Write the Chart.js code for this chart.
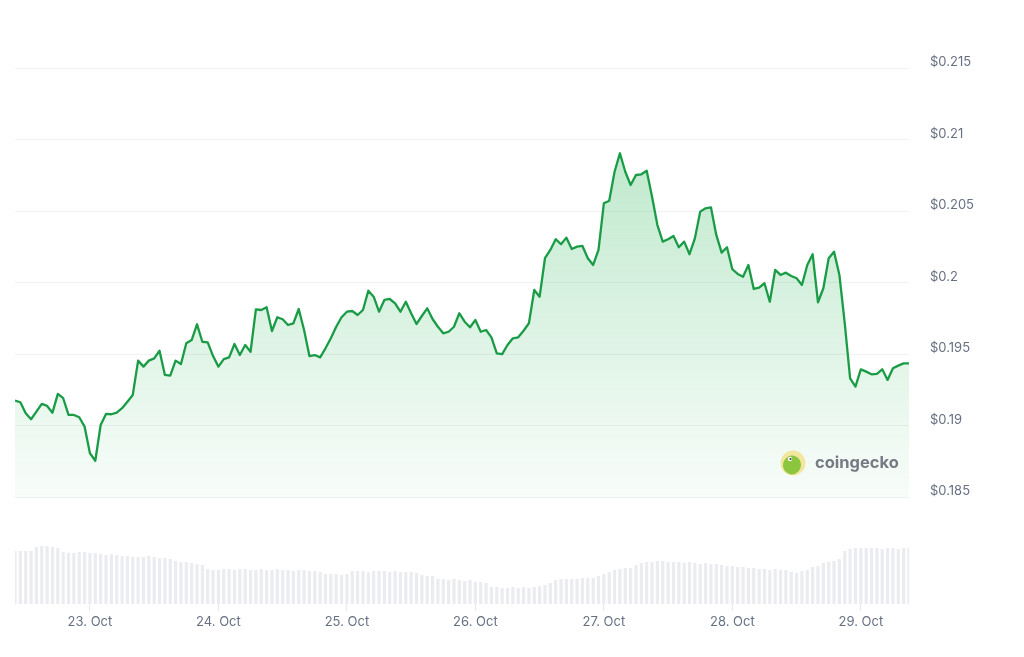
<!DOCTYPE html>
<html>
<head>
<meta charset="utf-8">
<title>Price chart</title>
<script src="https://cdn.jsdelivr.net/npm/chart.js@4.4.1/dist/chart.umd.min.js"></script>
<style>
    html, body { margin: 0; padding: 0; background: #fff; }
    #wrap { width: 1024px; height: 657px; position: relative; }
</style>
</head>
<body>
<div id="wrap"><canvas id="priceChart"></canvas></div>
<script>
// hourly samples, first one is 22 Oct 10:00 (hours counted from 23 Oct 00:00)
const firstHour = -14;

// price in USD, one value per hour
const prices = [
    0.19175, 0.19164, 0.19087, 0.19045, 0.19098, 0.19152, 0.19138, 0.19091, 0.19222, 0.19192, 0.19075, 0.19075, 0.19059, 0.18993,
    0.18807, 0.18755, 0.19005, 0.19082, 0.19080, 0.19091, 0.19122, 0.19168, 0.19215, 0.19455, 0.19413, 0.19455,
    0.19471, 0.19524, 0.19355, 0.19350, 0.19455, 0.19431, 0.19576, 0.19599, 0.19709, 0.19587, 0.19583, 0.19487,
    0.19413, 0.19466, 0.19478, 0.19571, 0.19494, 0.19564, 0.19517, 0.19814, 0.19809, 0.19828, 0.19662, 0.19758,
    0.19744, 0.19704, 0.19716, 0.19816, 0.19669, 0.19487, 0.19494, 0.19478, 0.19541, 0.19611, 0.19692, 0.19758,
    0.19797, 0.19802, 0.19774, 0.19809, 0.19944, 0.19902, 0.19797, 0.19879, 0.19886, 0.19856, 0.19797, 0.19867,
    0.19786, 0.19711, 0.19767, 0.19821, 0.19746, 0.19692, 0.19646, 0.19657, 0.19692, 0.19786, 0.19727, 0.19688,
    0.19739, 0.19657, 0.19669, 0.19618, 0.19506, 0.19501, 0.19564, 0.19611, 0.19618, 0.19664, 0.19716, 0.19949,
    0.19902, 0.20171, 0.20229, 0.20304, 0.20269, 0.20315, 0.20236, 0.20252, 0.20257, 0.20171, 0.20124, 0.20229,
    0.20555, 0.20573, 0.20776, 0.20905, 0.20776, 0.20683, 0.20753, 0.20758, 0.20783, 0.20601, 0.20403, 0.20287,
    0.20304, 0.20327, 0.20248, 0.20287, 0.20199, 0.20310, 0.20497, 0.20520, 0.20527, 0.20334, 0.20210, 0.20248,
    0.20094, 0.20061, 0.20042, 0.20124, 0.19956, 0.19965, 0.19996, 0.19867, 0.20089, 0.20054, 0.20070, 0.20047,
    0.20031, 0.19984, 0.20124, 0.20199, 0.19863, 0.19961, 0.20171, 0.20217, 0.20054, 0.19716, 0.19331, 0.19273,
    0.19394, 0.19378, 0.19359, 0.19362, 0.19394, 0.19320, 0.19401, 0.19420, 0.19436, 0.19436
];

// traded volume per hour (relative units)
const volumes = [
    53, 53, 53, 53, 57, 58, 58, 57, 56, 52, 51, 51, 52, 52,
    51, 51, 50, 49, 50, 49, 48, 48, 47, 47, 47, 48, 47, 46, 46, 45, 43, 42, 42, 41, 40, 39, 35, 34,
    34, 35, 35, 34, 35, 35, 34, 34, 35, 34, 34, 35, 34, 34, 33, 34, 34, 33, 33, 32, 30, 30, 30, 29,
    30, 33, 33, 33, 32, 33, 33, 33, 32, 33, 32, 32, 32, 31, 29, 28, 28, 25, 25, 24, 25, 24, 23, 24,
    22, 22, 21, 17, 17, 16, 16, 17, 16, 17, 16, 17, 18, 19, 21, 24, 25, 25, 25, 25, 26, 26, 26, 28,
    30, 32, 34, 35, 36, 36, 39, 41, 42, 42, 43, 43, 42, 42, 42, 41, 42, 41, 40, 41, 40, 40, 39, 38,
    38, 37, 37, 36, 36, 35, 35, 34, 35, 34, 34, 32, 31, 33, 34, 37, 38, 41, 42, 43, 45, 53, 55, 56,
    56, 56, 56, 56, 55, 56, 56, 55, 56, 56
];

// x axis ticks (hours from 23 Oct 00:00) and their labels
const dayTicks = [0, 24, 48, 72, 96, 120, 144];
const dayLabels = ['23. Oct', '24. Oct', '25. Oct', '26. Oct', '27. Oct', '28. Oct', '29. Oct'];

// price axis ticks
const priceTicks = [0.185, 0.19, 0.195, 0.2, 0.205, 0.21, 0.215];

const priceData = prices.map((p, i) => ({ x: firstHour + i, y: p }));
const volumeData = volumes.map((v, i) => ({ x: firstHour + i, y: v }));

const labelColor = '#677083';
const fontFamily = 'Inter, "Noto Sans", sans-serif';

// coingecko watermark in the lower right of the price pane
const watermark = {
    id: 'watermark',
    afterDatasetsDraw(chart) {
        const c = chart.ctx;
        c.save();
        c.beginPath();
        c.arc(793, 463, 12.5, 0, Math.PI * 2);
        c.fillStyle = '#f3e7a0';
        c.fill();
        c.beginPath();
        c.ellipse(792, 465, 9, 9.5, 0.3, 0, Math.PI * 2);
        c.fillStyle = '#8cc63f';
        c.fill();
        c.beginPath();
        c.arc(790, 459, 2.2, 0, Math.PI * 2);
        c.fillStyle = '#ffffff';
        c.fill();
        c.beginPath();
        c.arc(790.5, 459, 1.1, 0, Math.PI * 2);
        c.fillStyle = '#3a3a3a';
        c.fill();
        c.font = 'bold 16.5px ' + fontFamily;
        c.fillStyle = '#767b83';
        c.textBaseline = 'middle';
        c.textAlign = 'left';
        c.fillText('coingecko', 815, 463);
        c.restore();
    }
};

const ctx = document.getElementById('priceChart').getContext('2d');
const priceChart = new Chart(ctx, {
    type: 'line',
    data: {
        datasets: [{
            type: 'line',
            label: 'Price',
            data: priceData,
            yAxisID: 'y',
            borderColor: '#1a9c47',
            borderWidth: 2.3,
            borderJoinStyle: 'round',
            pointRadius: 0,
            tension: 0,
            fill: { value: 0.185 },
            backgroundColor: (context) => {
                const chart = context.chart;
                if (!chart.chartArea) return 'rgba(34,177,76,0.12)';
                const ys = chart.scales.y;
                const g = chart.ctx.createLinearGradient(0, ys.getPixelForValue(0.21), 0, ys.getPixelForValue(0.185));
                g.addColorStop(0, 'rgba(40,180,85,0.3)');
                g.addColorStop(1, 'rgba(40,180,85,0.03)');
                return g;
            },
            order: 1
        }, {
            type: 'bar',
            label: 'Volume',
            data: volumeData,
            yAxisID: 'yv',
            backgroundColor: '#eaecf0',
            borderWidth: 0,
            barPercentage: 0.6,
            categoryPercentage: 1,
            order: 2
        }]
    },
    options: {
        responsive: true,
        maintainAspectRatio: false,
        animation: false,
        layout: { padding: { left: 15, top: 20, right: 0, bottom: 0 } },
        plugins: {
            legend: { display: false },
            tooltip: { enabled: false }
        },
        scales: {
            x: {
                type: 'linear',
                min: firstHour,
                max: firstHour + prices.length - 1,
                offset: false,
                afterBuildTicks: (scale) => {
                    scale.ticks = dayTicks.map(v => ({ value: v }));
                },
                afterFit: (scale) => { scale.height = 53; },
                border: { display: false },
                grid: {
                    offset: false,
                    drawOnChartArea: false,
                    drawTicks: true,
                    tickLength: 7,
                    color: '#e6e8ec'
                },
                ticks: {
                    autoSkip: false,
                    maxRotation: 0,
                    padding: 3,
                    color: labelColor,
                    font: { family: fontFamily, size: 13 },
                    callback: (value) => dayLabels[dayTicks.indexOf(value)]
                }
            },
            y: {
                position: 'right',
                min: 0.17753,
                max: 0.21837,
                afterBuildTicks: (scale) => {
                    scale.ticks = priceTicks.map(v => ({ value: v }));
                },
                afterFit: (scale) => {
                    // labels sit to the right, so they should not push the plot down
                    scale.width = 115;
                    scale.paddingTop = 0;
                    scale.paddingBottom = 0;
                },
                border: { display: false },
                grid: {
                    drawTicks: false,
                    color: '#f0f1f4',
                    lineWidth: 1
                },
                ticks: {
                    padding: 21,
                    labelOffset: -6,
                    color: labelColor,
                    font: { family: fontFamily, size: 13 },
                    callback: (value) => '$' + value
                }
            },
            yv: {
                display: false,
                min: 0,
                max: 584
            }
        }
    },
    plugins: [watermark]
});
</script>
</body>
</html>
